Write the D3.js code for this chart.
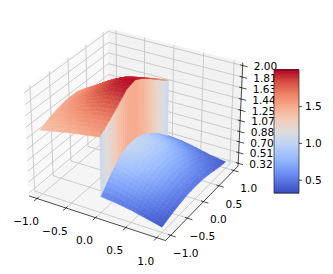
<!DOCTYPE html>
<html>
<head>
<meta charset="utf-8">
<script src="https://cdn.jsdelivr.net/npm/d3@7"></script>
<style>
  html, body { margin: 0; padding: 0; background: #fff; }
  svg { display: block; font-family: "DejaVu Sans", sans-serif; }
</style>
</head>
<body>
<svg id="chart" width="333" height="274"></svg>
<script>
const xTicks = [-1.0, -0.5, 0.0, 0.5, 1.0];
const yTicks = [-1.0, -0.5, 0.0, 0.5, 1.0];
const zTicks = [0.32, 0.51, 0.70, 0.88, 1.07, 1.25, 1.44, 1.63, 1.81, 2.00];
const cbarTicks = [0.5, 1.0, 1.5];

// surface samples, one row per x, columns follow ySamples
const ySamples = [-1, -0.75, -0.5, -0.25, 0, 0.25, 0.5, 0.75, 1];
const xRed = [-1, -0.75, -0.5, -0.25, 0];
const zRed = [
  [1.36, 1.44, 1.49, 1.52, 1.52, 1.46, 1.36, 1.26, 1.18],
  [1.41, 1.51, 1.59, 1.65, 1.66, 1.60, 1.49, 1.37, 1.28],
  [1.46, 1.58, 1.69, 1.79, 1.82, 1.75, 1.62, 1.49, 1.38],
  [1.50, 1.63, 1.77, 1.91, 1.95, 1.86, 1.72, 1.59, 1.46],
  [1.54, 1.66, 1.80, 1.95, 1.99, 1.90, 1.78, 1.65, 1.52]
];
const xBlue = [0, 0.25, 0.5, 0.75, 1];
const zBlue = [
  [0.55, 0.76, 0.93, 1.01, 1.02, 0.96, 0.86, 0.72, 0.55],
  [0.52, 0.71, 0.86, 0.94, 0.95, 0.90, 0.80, 0.67, 0.53],
  [0.48, 0.62, 0.74, 0.80, 0.81, 0.77, 0.69, 0.59, 0.48],
  [0.42, 0.51, 0.59, 0.64, 0.65, 0.62, 0.56, 0.49, 0.42],
  [0.36, 0.41, 0.45, 0.48, 0.49, 0.48, 0.45, 0.41, 0.38]
];
const coolwarmStops = ['#3b4cc0', '#5977e3', '#7b9ff9', '#9ebeff', '#c0d4f5', '#dddcdc', '#f2cbb7', '#f7ac8e', '#ee8468', '#d65244', '#b40426'];

const zMin = 0.32, zMax = 1.99;
const colorScale = d3.scaleLinear()
  .domain(coolwarmStops.map((c, i) => zMin + (zMax - zMin) * i / (coolwarmStops.length - 1)))
  .range(coolwarmStops)
  .clamp(true);

// axes limits and box
const xLim = [-1.14, 1.14], yLim = [-1.15, 1.15], zLim = [0.27, 2.05];
const box = [1.19, 1.19, 0.92];
const xWorld = d3.scaleLinear().domain(xLim).range([0, box[0]]);
const yWorld = d3.scaleLinear().domain(yLim).range([0, box[1]]);
const zWorld = d3.scaleLinear().domain(zLim).range([0, box[2]]);

// camera, elev 30 azim -60 distance 10
const el = 30 * Math.PI / 180, az = -60 * Math.PI / 180, dist = 10;
const w = [Math.cos(el) * Math.cos(az), Math.cos(el) * Math.sin(az), Math.sin(el)];
const center = box.map(b => b / 2);
const eye = center.map((c, i) => c + dist * w[i]);
const u = [-Math.sin(az), Math.cos(az), 0];
const v = [w[1] * u[2] - w[2] * u[1], w[2] * u[0] - w[0] * u[2], w[0] * u[1] - w[1] * u[0]];
const sx = d3.scaleLinear().domain([0, 0.1]).range([135.5, 135.5 + 131.5]);
const sy = d3.scaleLinear().domain([0, 0.1]).range([129.5, 129.5 - 131.5]);

function camera(x, y, z) {
  const p = [xWorld(x) - eye[0], yWorld(y) - eye[1], zWorld(z) - eye[2]];
  return {
    xc: d3.sum(p, (d, i) => d * u[i]),
    yc: d3.sum(p, (d, i) => d * v[i]),
    zc: d3.sum(p, (d, i) => d * w[i])
  };
}
function project(x, y, z) {
  const c = camera(x, y, z);
  return [sx(c.xc / -c.zc), sy(c.yc / -c.zc)];
}

const svg = d3.select('#chart');
const line = d3.line();

function drawPoly(g, pts, fill) {
  g.append('path').attr('d', line(pts.map(p => project(...p))) + 'Z')
    .attr('fill', fill).attr('stroke', fill).attr('stroke-width', 0.5);
}
function drawSeg(g, a, b, color, width) {
  const pa = project(...a), pb = project(...b);
  g.append('line').attr('x1', pa[0]).attr('y1', pa[1]).attr('x2', pb[0]).attr('y2', pb[1])
    .attr('stroke', color).attr('stroke-width', width);
}

// panes
const panes = svg.append('g');
const [x0, x1] = xLim, [y0, y1] = yLim, [z0, z1] = zLim;
drawPoly(panes, [[x0, y0, z0], [x0, y1, z0], [x0, y1, z1], [x0, y0, z1]], '#f9f9f9');
drawPoly(panes, [[x0, y1, z0], [x1, y1, z0], [x1, y1, z1], [x0, y1, z1]], '#f2f2f2');
drawPoly(panes, [[x0, y0, z0], [x1, y0, z0], [x1, y1, z0], [x0, y1, z0]], '#f5f5f5');

// grid
const grid = svg.append('g');
const gridColor = '#c0c0c0', gridWidth = 0.8;
xTicks.forEach(t => {
  drawSeg(grid, [t, y0, z0], [t, y1, z0], gridColor, gridWidth);
  drawSeg(grid, [t, y1, z0], [t, y1, z1], gridColor, gridWidth);
});
yTicks.forEach(t => {
  drawSeg(grid, [x1, t, z0], [x0, t, z0], gridColor, gridWidth);
  drawSeg(grid, [x0, t, z0], [x0, t, z1], gridColor, gridWidth);
});
zTicks.forEach(t => {
  drawSeg(grid, [x0, y0, t], [x0, y1, t], gridColor, gridWidth);
  drawSeg(grid, [x0, y1, t], [x1, y1, t], gridColor, gridWidth);
});

// axis lines and ticks
const axes = svg.append('g');
drawSeg(axes, [x0, y0, z0], [x1, y0, z0], '#000', 0.7);
drawSeg(axes, [x1, y0, z0], [x1, y1, z0], '#000', 0.7);
drawSeg(axes, [x1, y1, z0], [x1, y1, z1], '#000', 0.7);
const tickLabel = (pos, txt, anchor) => axes.append('text')
  .attr('x', pos[0]).attr('y', pos[1]).attr('dy', '0.36em')
  .attr('text-anchor', anchor).attr('font-size', 10.6).attr('fill', '#000')
  .text(txt);
const fmt = d3.format('.1f'), minus = s => s.replace('-', '\u2212');
xTicks.forEach(t => {
  drawSeg(axes, [t, y0 + 0.04, z0], [t, y0 - 0.08, z0], '#000', 0.7);
  const p = project(t, y0, z0);
  tickLabel([p[0] - 11, p[1] + 23], minus(fmt(t)), 'middle');
});
yTicks.forEach(t => {
  drawSeg(axes, [x1 - 0.04, t, z0], [x1 + 0.08, t, z0], '#000', 0.7);
  const p = project(x1, t, z0);
  tickLabel([p[0] + 15, p[1] + 18], minus(fmt(t)), 'middle');
});
zTicks.forEach(t => {
  drawSeg(axes, [x1 - 0.04, y1, t], [x1 + 0.08, y1, t], '#000', 0.7);
  const p = project(x1, y1, t);
  tickLabel([p[0] + 11, p[1] + 1], d3.format('.2f')(t), 'start');
});

// surface, painted far to near; cells get split so the shading stays smooth
const subdiv = 4;
const facets = [];
function addCell(pts, zs) {
  const zAvg = d3.mean(zs);
  const depth = d3.mean(pts, p => camera(...p).zc);
  facets.push({ pts, fill: colorScale(zAvg), depth });
}
function addSurface(xs, zRows) {
  for (let i = 0; i < xs.length - 1; i++) {
    for (let j = 0; j < ySamples.length - 1; j++) {
      const sample = (a, b) => {
        const top = d3.interpolateNumber(zRows[i][j], zRows[i][j + 1])(b);
        const bot = d3.interpolateNumber(zRows[i + 1][j], zRows[i + 1][j + 1])(b);
        return [
          d3.interpolateNumber(xs[i], xs[i + 1])(a),
          d3.interpolateNumber(ySamples[j], ySamples[j + 1])(b),
          d3.interpolateNumber(top, bot)(a)
        ];
      };
      for (let a = 0; a < subdiv; a++) {
        for (let b = 0; b < subdiv; b++) {
          const q = [[a, b], [a + 1, b], [a + 1, b + 1], [a, b + 1]]
            .map(([m, n]) => sample(m / subdiv, n / subdiv));
          addCell(q, q.map(p => p[2]));
        }
      }
    }
  }
}
addSurface(xRed, zRed);
addSurface(xBlue, zBlue);
// the step at x = 0, one facet per y interval
ySamples.slice(0, -1).forEach((yv, j) => {
  const red = zRed[zRed.length - 1], blue = zBlue[0];
  for (let b = 0; b < subdiv; b++) {
    const t0 = b / subdiv, t1 = (b + 1) / subdiv;
    const yAt = t => yv + (ySamples[j + 1] - yv) * t;
    const rAt = t => red[j] + (red[j + 1] - red[j]) * t;
    const bAt = t => blue[j] + (blue[j + 1] - blue[j]) * t;
    const q = [[0, yAt(t0), rAt(t0)], [0, yAt(t1), rAt(t1)], [0, yAt(t1), bAt(t1)], [0, yAt(t0), bAt(t0)]];
    addCell(q, q.map(p => p[2]));
  }
});
const surface = svg.append('g');
facets.sort((a, b) => a.depth - b.depth).forEach(f => drawPoly(surface, f.pts, f.fill));

// colorbar
const cbar = svg.append('g');
const cbarScale = d3.scaleLinear().domain([zMin, zMax]).range([193, 70]);
const cbarLevels = d3.range(0, 124).map(i => zMin + (zMax - zMin) * i / 123);
cbar.selectAll('rect.level').data(cbarLevels).join('rect')
  .attr('class', 'level')
  .attr('x', 274).attr('width', 25)
  .attr('y', d => cbarScale(d) - 1).attr('height', 1.5)
  .attr('fill', d => colorScale(d));
cbar.append('rect').attr('x', 274).attr('y', 70).attr('width', 25).attr('height', 123)
  .attr('fill', 'none').attr('stroke', '#222').attr('stroke-width', 0.7);
const cbarAxis = cbar.append('g').attr('transform', 'translate(299,0)')
  .call(d3.axisRight(cbarScale).tickValues(cbarTicks).tickSize(3).tickPadding(3).tickFormat(fmt));
cbarAxis.select('.domain').remove();
cbarAxis.selectAll('text').attr('font-size', 10.6).attr('font-family', '"DejaVu Sans", sans-serif');
cbarAxis.selectAll('line').attr('stroke-width', 0.7);
</script>
</body>
</html>
